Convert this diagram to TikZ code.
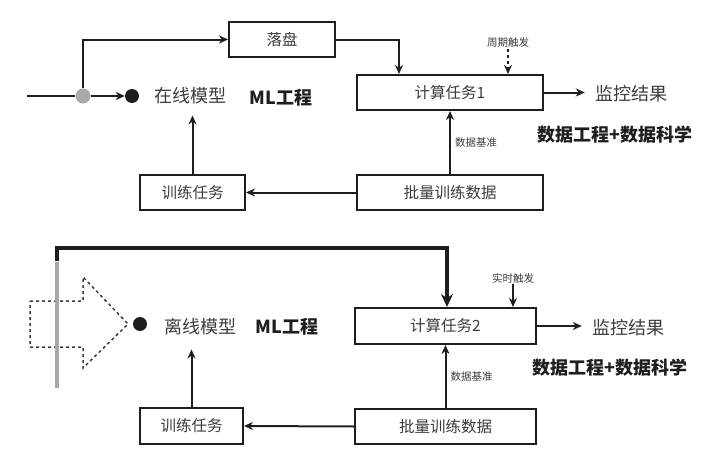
\documentclass[tikz,border=0pt]{standalone}
\usepackage{fontspec}
\setmainfont{Noto Sans CJK SC}
\usepackage{xcolor}
\usepackage{tikz}
\usetikzlibrary{arrows.meta, positioning, calc}
\definecolor{ink}{HTML}{1E1E1E}
\definecolor{txt}{HTML}{3C3C3C}
\definecolor{bar}{HTML}{A8A8A8}
\tikzset{
  box/.style={rectangle, draw=ink, line width=2pt, fill=white, text=txt, align=center, inner sep=0pt, font=\fontsize{15.5}{17}\selectfont},
  label/.style={text=txt, inner sep=1pt, font=\fontsize{18}{20}\selectfont},
  tag/.style={text=ink, inner sep=1pt, font=\bfseries\fontsize{18}{20}\selectfont},
  tiny/.style={text=txt, inner sep=1pt, font=\fontsize{10.5}{12}\selectfont},
  dot/.style={circle, fill=ink, inner sep=0pt, minimum size=14pt},
  arrow/.style={-{Stealth[length=9pt, width=8pt]}, line width=2pt, draw=ink},
  heavy/.style={-{Stealth[length=13pt, width=12pt]}, line width=4pt, draw=ink},
}
\begin{document}
\begin{tikzpicture}[x=1pt, y=-1pt]
  \useasboundingbox (0,0) rectangle (721,450);
  % online
  \node[box, minimum width=106pt, minimum height=35pt] (disk) at (282,39.5) {落盘};
  \node[box, minimum width=186pt, minimum height=35pt] (calc1) at (450,92.5) {计算任务1};
  \node[box, minimum width=105pt, minimum height=35pt] (train1) at (192.5,192.5) {训练任务};
  \node[box, minimum width=186pt, minimum height=35pt] (batch1) at (450,192.5) {批量训练数据};
  \coordinate (in1) at (27,96);
  \node[circle, fill=bar, inner sep=0pt, minimum size=15pt] (fork1) at (83,96) {};
  \node[dot] (dot1) at (132,96) {};
  \node[label] (model1) at (190,96) {在线模型};
  \node[tag] (ml1) at (281,98) {ML工程};
  \node[label] (mon1) at (631,94) {监控结果};
  \node[tag] (team1) at (615,135) {数据工程+数据科学};
  \node[tiny] (trig1) at (508,43) {周期触发};
  \draw[line width=2pt, draw=ink] (in1) -- (fork1);
  \draw[arrow] (fork1) -- (dot1);
  \draw[arrow] (fork1) |- (disk.west);
  \draw[arrow] (disk.east) -| ([xshift=-51pt]calc1.north);
  \draw[arrow, dashed] (trig1.south) -- (trig1.south |- calc1.north);
  \draw[arrow, shorten >=9pt] (calc1.east) -- (calc1.east -| mon1.west);
  \draw[arrow] (batch1.north) -- node[tiny, right=3pt] (base1) {数据基准} (calc1.south);
  \draw[arrow] (batch1.west) -- (train1.east);
  \draw[arrow] (train1.north) -- ([yshift=-10pt]train1.north |- model1.south);
  % offline
  \node[box, minimum width=181pt, minimum height=36pt] (calc2) at (445.5,326) {计算任务2};
  \node[box, minimum width=103pt, minimum height=36pt] (train2) at (191.5,426) {训练任务};
  \node[box, minimum width=181pt, minimum height=35pt] (batch2) at (445.5,426.5) {批量训练数据};
  \draw[dashed, line width=1.5pt, draw=txt] (30,301) -- (83,301) -- (83,277) -- (128,324) -- (83,368) -- (83,347) -- (30,347) -- cycle;
  \coordinate (bartop) at (57,262);
  \coordinate (barbot) at (57,388);
  \draw[line width=3.5pt, draw=bar] (bartop) -- (barbot);
  \draw[heavy] ([yshift=1pt]bartop) -- ++(0,-13) -| ([xshift=1.5pt]calc2.north);
  \node[dot] (dot2) at (140,324) {};
  \node[label] (model2) at (200,327) {离线模型};
  \node[tag] (ml2) at (287,327) {ML工程};
  \node[label] (mon2) at (628,328) {监控结果};
  \node[tag] (team2) at (610,368) {数据工程+数据科学};
  \node[tiny] (trig2) at (513,278) {实时触发};
  \draw[arrow] (trig2.south) -- (trig2.south |- calc2.north);
  \draw[arrow, shorten >=9pt] (calc2.east) -- (calc2.east -| mon2.west);
  \draw[arrow] (batch2.north) -- node[tiny, right=3pt] (base2) {数据基准} (calc2.south);
  \draw[arrow] (batch2.west) -- (train2.east);
  \draw[arrow] (train2.north) -- ([yshift=-13pt]train2.north |- model2.south);
\end{tikzpicture}
\end{document}
